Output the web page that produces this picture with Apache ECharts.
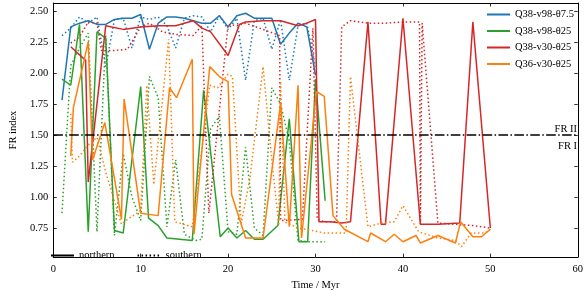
<!DOCTYPE html>
<html>
<head>
<meta charset="utf-8">
<script src="https://cdn.jsdelivr.net/npm/echarts@6/dist/echarts.min.js"></script>
<style>
html,body{margin:0;padding:0;background:#fff;}
#chart{width:586px;height:296px;}
</style>
</head>
<body>
<div id="chart"></div>
<script>
// ---- data ----
const seriesNames = ['Q38-v98-θ7.5', 'Q38-v98-θ25', 'Q38-v30-θ25', 'Q36-v30-θ25'];
const seriesColors = ['#1f77b4', '#2ca02c', '#d62728', '#ff7f0e'];
const hemisphereNames = ['northern', 'southern'];
const xTicks = [0, 10, 20, 30, 40, 50, 60];
const yTicks = [0.75, 1.00, 1.25, 1.50, 1.75, 2.00, 2.25, 2.50];
const frThreshold = 1.5;

const q38v98t75North = [[1,1.78],[2,2.37],[3,2.40],[4,2.42],[5,2.39],[6,2.39],[7,2.43],[8,2.44],[9,2.44],[10,2.47],[11,2.19],[12,2.40],[13,2.45],[14,2.45],[15,2.44],[16,2.42],[17,2.40],[18,2.40],[19,2.46],[20,2.37],[21,2.46],[22,2.48],[23,2.44],[24,2.44],[25,2.44],[26,2.23],[27,2.32],[28,2.40],[29,2.37],[30,1.98]];
const q38v98t75South = [[1,2.30],[2,2.36],[3,2.45],[4,2.40],[5,2.45],[6,2.05],[7,2.43],[8,2.44],[9,2.20],[10,2.45],[11,2.43],[12,2.45],[13,2.38],[14,2.20],[15,2.44],[16,2.46],[17,2.45],[18,2.33],[19,2.46],[20,2.35],[21,2.44],[22,1.94],[23,2.42],[24,2.44],[25,2.19],[26,2.43],[27,1.94],[28,2.38],[29,2.40],[30,2.05]];
const q38v98t25North = [[1,1.95],[2,1.90],[3,2.39],[4,0.72],[5,2.33],[6,2.28],[7,0.73],[8,0.71],[10,1.89],[10.9,0.83],[12,0.77],[13,0.67],[15.9,0.65],[17.2,1.86],[19.1,0.68],[20,0.75],[21,0.67],[22,0.73],[23,0.66],[24,0.66],[25.7,0.77],[27,1.63],[28.1,0.64],[29.1,0.64],[30,1.95],[31.1,0.97]];
const q38v98t25South = [[1,0.87],[2,2.06],[3,2.20],[4,2.32],[5,0.72],[6,2.30],[7,0.69],[8,1.35],[9,1.00],[10,0.81],[11,1.97],[12,1.80],[13,0.76],[14,1.30],[15,0.70],[16.3,0.65],[17,0.66],[18,1.55],[19,1.65],[20,0.72],[21,0.70],[22,1.40],[23,0.75],[24,0.69],[25,1.88],[26,1.75],[27,1.45],[28,0.65],[29,0.64],[30,0.64],[31.1,0.64]];
const q38v30t25North = [[2,2.21],[3.7,2.10],[4,1.12],[6,2.38],[8,2.35],[10,2.37],[12,2.38],[14,2.38],[16,2.42],[17,2.36],[18,2.33],[20,2.14],[21.3,2.39],[22,2.41],[24,2.42],[26,2.42],[28,2.38],[29,2.40],[30,2.43],[30.4,0.80],[31.7,0.80],[33,0.79],[34,0.80],[36,2.41],[37.5,0.78],[38,0.78],[40,2.44],[42,0.78],[44,0.78],[46.5,0.79],[48,2.41],[50,0.75]];
const q38v30t25South = [[2,2.24],[3,2.29],[4,2.41],[5,2.40],[5.5,2.18],[7,2.18],[8.5,2.19],[10,2.37],[11,2.40],[12.5,2.33],[14,2.31],[16,2.30],[17,2.38],[17.8,0.87],[20,2.39],[21,2.38],[22,2.40],[24,2.35],[25.9,2.30],[26,0.81],[28.5,0.82],[29.7,2.36],[30.2,0.82],[31,0.80],[32.4,0.80],[33,2.37],[34,2.42],[36,2.40],[38,2.40],[40,2.41],[41.9,2.41],[42,0.78],[42.2,2.40],[44,0.79],[46,0.78],[48,0.77],[50,0.75]];
const q36v30t25North = [[2,1.33],[2.3,1.72],[4,2.25],[4.5,1.30],[5.9,1.60],[7.8,0.82],[8.1,1.79],[10,0.87],[12,0.85],[13.3,1.88],[14.1,1.80],[15.9,2.11],[16.1,0.70],[17.9,2.05],[19,1.97],[20,1.93],[20.4,1.02],[22,0.67],[24,0.67],[26,1.75],[27,0.76],[28,1.90],[28.4,0.67],[30.1,1.85],[31,1.81],[32,0.85],[33.3,0.74],[36,0.64],[36.3,0.71],[38,0.64],[39,0.70],[40,0.64],[41.5,0.69],[42,0.63],[44,0.69],[46,0.63],[46.6,0.80],[48,0.68],[49,0.68],[50,0.74]];
const q36v30t25South = [[2,1.67],[2.2,1.28],[3,1.33],[4,1.42],[5,1.48],[6,1.20],[7.8,0.78],[8.5,0.82],[10,0.89],[10.7,1.90],[11.5,1.10],[13.2,2.27],[13.9,0.80],[15.9,0.76],[17.9,1.90],[18.8,1.88],[20,1.99],[20.5,1.97],[21.5,0.79],[22.5,1.15],[24,2.05],[25,1.30],[25.8,0.77],[26,1.93],[26.5,0.80],[28,0.75],[29.6,0.73],[31,0.71],[33.5,0.71],[34,1.97],[36,0.76],[37.5,0.79],[39,0.80],[40,0.93],[41.8,0.72],[44,0.67],[46,0.65],[46.7,0.60],[47.8,0.71],[49.4,0.71],[50,0.74]];

const northData = [q38v98t75North, q38v98t25North, q38v30t25North, q36v30t25North];
const southData = [q38v98t75South, q38v98t25South, q38v30t25South, q36v30t25South];

// ---- chart ----
const FONT = 'Liberation Serif';
const DOTTED = [1.5, 2.5];
const DASHDOT = [9.6, 2.4, 1.5, 2.4];
const xMin = 0, xMax = 60, yMin = 0.516, yMax = 2.5625;

const chart = echarts.init(document.getElementById('chart'), null, {renderer: 'canvas'});

const axisCommon = {
  axisLine: {show: true, onZero: false, lineStyle: {color: '#000', width: 1}},
  axisTick: {show: true, inside: true, length: 3.5, lineStyle: {color: '#000', width: 0.8}},
  splitLine: {show: false}
};

const series = [];
seriesNames.forEach((name, i) => {
  series.push({
    name: name, type: 'line', data: northData[i], symbol: 'none', silent: true,
    lineStyle: {color: seriesColors[i], width: 1.5, type: 'solid'},
    itemStyle: {color: seriesColors[i]}, z: 2 + i
  });
  series.push({
    name: name + ' south', type: 'line', data: southData[i], symbol: 'none', silent: true,
    lineStyle: {color: seriesColors[i], width: 1.5, type: DOTTED},
    itemStyle: {color: seriesColors[i]}, z: 2 + i
  });
});
series.push({
  name: 'FR boundary', type: 'line', data: [[xMin, frThreshold], [xMax, frThreshold]], symbol: 'none', silent: true,
  lineStyle: {color: '#000', width: 1.5, type: DASHDOT}, z: 10
});
series.push({
  name: hemisphereNames[0], type: 'line', data: [], symbol: 'none',
  lineStyle: {color: '#000', width: 1.5, type: 'solid'}, itemStyle: {color: '#000'}
});
series.push({
  name: hemisphereNames[1], type: 'line', data: [], symbol: 'none',
  lineStyle: {color: '#000', width: 1.5, type: DOTTED}, itemStyle: {color: '#000'}
});

const option = {
  animation: false,
  backgroundColor: '#fff',
  grid: {left: 40, right: 6, top: 3, bottom: 32, containLabel: false},
  xAxis: [
    Object.assign({}, axisCommon, {
      type: 'value', min: xMin, max: xMax, interval: 10, position: 'bottom',
      name: 'Time / Myr', nameLocation: 'middle', nameGap: 21,
      nameTextStyle: {fontFamily: FONT, fontSize: 10.5, color: '#000'},
      axisLabel: {show: true, margin: 7, color: '#000', fontFamily: FONT, fontSize: 10.5,
        customValues: xTicks}
    }),
    Object.assign({}, axisCommon, {
      type: 'value', min: xMin, max: xMax, interval: 10, position: 'top',
      axisLabel: {show: false}
    })
  ],
  yAxis: [
    Object.assign({}, axisCommon, {
      type: 'value', min: yMin, max: yMax, position: 'left',
      name: 'FR index', nameLocation: 'middle', nameGap: 31,
      nameTextStyle: {fontFamily: FONT, fontSize: 10.5, color: '#000'},
      axisTick: {show: true, inside: true, length: 3.5, lineStyle: {color: '#000', width: 0.8}, customValues: yTicks},
      axisLabel: {show: true, margin: 5, color: '#000', fontFamily: FONT, fontSize: 10.5,
        customValues: yTicks, formatter: v => v.toFixed(2)}
    }),
    Object.assign({}, axisCommon, {
      type: 'value', min: yMin, max: yMax, position: 'right',
      axisTick: {show: true, inside: true, length: 3.5, lineStyle: {color: '#000', width: 0.8}, customValues: yTicks},
      axisLabel: {show: false}
    })
  ],
  legend: [
    {
      data: seriesNames, orient: 'vertical', left: 482, top: 4,
      itemWidth: 23, itemHeight: 10, itemGap: 5.5,
      icon: 'path://M0,4 L23,4 L23,6 L0,6 Z',
      textStyle: {fontFamily: FONT, fontSize: 10.5, color: '#000'},
      selectedMode: false
    },
    {
      data: hemisphereNames, orient: 'horizontal', left: 45, top: 245,
      itemWidth: 23, itemHeight: 10, itemGap: 22,
      itemStyle: {opacity: 0},
      textStyle: {fontFamily: FONT, fontSize: 10.5, color: '#000'},
      selectedMode: false
    }
  ],
  graphic: [
    {type: 'text', right: 9, top: 124, style: {text: 'FR II', font: '10.5px "Liberation Serif"', fill: '#000'}},
    {type: 'text', right: 9, top: 141, style: {text: 'FR I', font: '10.5px "Liberation Serif"', fill: '#000'}}
  ],
  series: series
};
chart.setOption(option);
</script>
</body>
</html>
